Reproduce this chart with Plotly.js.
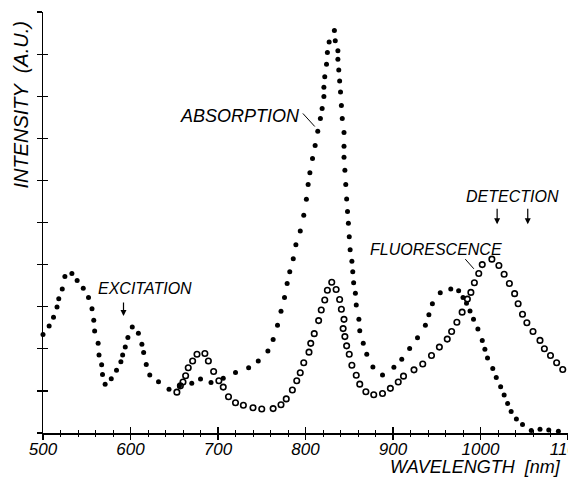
<!DOCTYPE html>
<html>
<head>
<meta charset="utf-8">
<script src="https://cdn.plot.ly/plotly-3.0.1.min.js"></script>
<style>html,body{margin:0;padding:0;background:#fff;}#chart{width:568px;height:477px;}</style>
</head>
<body>
<div id="chart"></div>
<script>
// Absorption spectrum (filled dots): wavelength [nm], intensity [a.u.]
var absorptionWavelength = [500,507,512,516,518,522,525,533,539,546,552,556,558,559,563,564,567,568,571,578,584,589,591,594,597,602,609,613,615,618,622,632,644,656,670,680,692,706,720,735,746,757,763,768,772,776,779,782,786,789,794,798,801,803,805,808,811,814,817,819,821,821,822,824,825,827,833,834,837,837,838,839,840,841,842,844,844,844,845,846,847,848,849,850,851,853,854,855,857,858,861,862,866,870,877,888,901,910,919,928,937,941,945,954,966,975,980,984,988,992,997,1002,1005,1008,1014,1018,1023,1027,1031,1035,1041,1048,1058,1068,1078,1089];
var absorptionIntensity = [2.34,2.54,2.75,2.99,3.19,3.42,3.72,3.79,3.62,3.44,3.22,2.95,2.68,2.42,2.13,1.85,1.62,1.39,1.16,1.29,1.49,1.69,1.85,2.04,2.27,2.52,2.37,2.11,1.91,1.63,1.38,1.22,1.04,1.12,1.18,1.28,1.20,1.30,1.44,1.55,1.71,1.95,2.22,2.56,2.89,3.22,3.55,3.83,4.14,4.47,4.80,5.17,5.55,5.90,6.18,6.52,6.83,7.17,7.47,7.71,7.99,8.21,8.46,8.76,9.04,9.29,9.56,9.32,9.08,8.88,8.62,8.36,8.10,7.78,7.47,7.14,6.81,6.55,6.24,5.90,5.56,5.26,4.98,4.66,4.35,4.08,3.83,3.57,3.32,3.04,2.70,2.43,2.13,1.87,1.57,1.38,1.56,1.75,2.01,2.26,2.56,2.81,3.07,3.33,3.42,3.38,3.22,3.08,2.90,2.70,2.47,2.20,1.99,1.78,1.53,1.32,1.10,0.90,0.70,0.51,0.33,0.20,0.06,0.09,0.07,0.04];

// Fluorescence spectrum (open circles)
var fluorescenceWavelength = [653,657,660,663,666,671,676,685,689,695,701,706,712,720,729,740,750,763,772,778,785,790,794,798,804,806,810,815,818,822,825,830,835,839,841,844,843,845,847,850,853,858,862,869,878,888,897,906,912,924,934,944,953,962,967,973,979,985,989,993,998,1002,1013,1021,1027,1033,1039,1043,1048,1053,1060,1068,1073,1080,1087,1094];
var fluorescenceIntensity = [0.97,1.12,1.21,1.36,1.55,1.71,1.87,1.89,1.71,1.46,1.24,1.09,0.86,0.72,0.66,0.60,0.57,0.58,0.67,0.81,1.02,1.24,1.43,1.67,1.92,2.13,2.36,2.67,2.92,3.16,3.39,3.58,3.41,3.17,2.94,2.70,2.48,2.29,2.07,1.87,1.61,1.37,1.16,0.98,0.91,0.94,1.06,1.21,1.35,1.50,1.64,1.84,2.04,2.23,2.41,2.63,2.87,3.18,3.34,3.57,3.79,4.00,4.13,3.98,3.77,3.55,3.31,3.07,2.82,2.62,2.41,2.20,2.00,1.84,1.67,1.51];

var xTickValues = [500,600,700,800,900,1000,1100];
var xTickLabels = ['500','600','700','800','900','1000','1100'];

var excitationArrowNm = 592;
var detectionArrowsNm = [1019, 1054];

var font = 'Liberation Sans, Arial, sans-serif';

var traces = [
  {x: absorptionWavelength, y: absorptionIntensity, type: 'scatter', mode: 'markers',
   marker: {symbol: 'circle', size: 5, color: '#000'}, cliponaxis: false, hoverinfo: 'skip'},
  {x: fluorescenceWavelength, y: fluorescenceIntensity, type: 'scatter', mode: 'markers',
   marker: {symbol: 'circle-open', size: 5.5, color: '#000', line: {width: 1.6, color: '#000'}}, cliponaxis: false, hoverinfo: 'skip'},
  {x: [null], y: [null], xaxis: 'x2', yaxis: 'y2', type: 'scatter', mode: 'markers', hoverinfo: 'skip', showlegend: false}
];

var axCommon = {showgrid: false, zeroline: false, color: '#000'};

var layout = {
  width: 568, height: 477,
  margin: {l: 43, r: 0, t: 12, b: 44},
  paper_bgcolor: '#fff', plot_bgcolor: 'rgba(0,0,0,0)',
  showlegend: false,
  xaxis: Object.assign({}, axCommon, {
    range: [500, 1100], showline: true, linewidth: 1.5, linecolor: '#000',
    tickmode: 'array', tickvals: xTickValues,
    ticktext: xTickLabels.map(function (t) { return '<i>' + t + '</i>'; }),
    ticklabeloverflow: 'allow',
    ticks: 'inside', ticklen: 6, tickwidth: 1.3, tickcolor: '#000',
    minor: {dtick: 20, tick0: 500, ticks: 'inside', ticklen: 3, tickwidth: 1, tickcolor: '#000'},
    tickfont: {family: font, size: 17, color: '#000', style: 'italic'}
  }),
  yaxis: Object.assign({}, axCommon, {
    range: [0, 10], showline: true, linewidth: 1.5, linecolor: '#000',
    tickmode: 'linear', tick0: 0, dtick: 1, ticks: 'outside', ticklen: 5, tickwidth: 1.2, tickcolor: '#000',
    showticklabels: false
  }),
  xaxis2: Object.assign({}, axCommon, {
    overlaying: 'x', anchor: 'y2', side: 'bottom', range: [500, 1100], showline: false,
    tickmode: 'array', tickvals: xTickValues, showticklabels: false,
    ticks: 'outside', ticklen: 6, tickwidth: 1.3, tickcolor: '#000',
    minor: {dtick: 20, tick0: 500, ticks: 'outside', ticklen: 3, tickwidth: 1, tickcolor: '#000'}
  }),
  yaxis2: Object.assign({}, axCommon, {
    overlaying: 'y', anchor: 'x2', side: 'left', range: [0, 10], showline: false,
    tickmode: 'linear', tick0: 0, dtick: 1, ticks: 'inside', ticklen: 5, tickwidth: 1.2, tickcolor: '#000',
    showticklabels: false
  }),
  annotations: [
    {xref: 'paper', yref: 'paper', x: -0.042, y: 0.78, yanchor: 'middle', xanchor: 'center', text: 'INTENSITY  (A.U.)', textangle: -90,
     showarrow: false, font: {family: font, size: 20, color: '#000', style: 'italic'}},
    {xref: 'paper', yref: 'paper', x: 1, xshift: -5, y: -0.0796, xanchor: 'right', yanchor: 'middle', text: 'WAVELENGTH  [nm]',
     showarrow: false, font: {family: font, size: 18, color: '#000', style: 'italic'}},
    {xref: 'x', yref: 'y', x: 725, y: 7.53, text: 'ABSORPTION', showarrow: false,
     font: {family: font, size: 18, color: '#000', style: 'italic'}},
    {xref: 'x', yref: 'y', x: 617, y: 3.44, text: 'EXCITATION', showarrow: false,
     font: {family: font, size: 16, color: '#000', style: 'italic'}},
    {xref: 'x', yref: 'y', x: 949, y: 4.36, text: 'FLUORESCENCE', showarrow: false,
     font: {family: font, size: 16, color: '#000', style: 'italic'}},
    {xref: 'x', yref: 'y', x: 1036, y: 5.62, text: 'DETECTION', showarrow: false,
     font: {family: font, size: 16, color: '#000', style: 'italic'}},
    {xref: 'x', yref: 'y', x: excitationArrowNm, y: 2.78, text: '', showarrow: true, ax: 0, ay: -15,
     arrowhead: 2, arrowsize: 1, arrowwidth: 1.2, arrowcolor: '#000', standoff: 0},
    {xref: 'x', yref: 'y', x: detectionArrowsNm[0], y: 4.96, text: '', showarrow: true, ax: 0, ay: -17,
     arrowhead: 2, arrowsize: 1, arrowwidth: 1.2, arrowcolor: '#000', standoff: 0},
    {xref: 'x', yref: 'y', x: detectionArrowsNm[1], y: 4.96, text: '', showarrow: true, ax: 0, ay: -17,
     arrowhead: 2, arrowsize: 1, arrowwidth: 1.2, arrowcolor: '#000', standoff: 0}
  ],
  shapes: [
    {type: 'line', xref: 'x', yref: 'y', x0: 797, y0: 7.59, x1: 810.6, y1: 7.28, line: {color: '#000', width: 1}},
    {type: 'line', xref: 'x', yref: 'y', x0: 982.6, y0: 4.13, x1: 992.4, y1: 3.90, line: {color: '#000', width: 1}}
  ]
};

Plotly.newPlot('chart', traces, layout, {staticPlot: true, displayModeBar: false});
</script>
</body>
</html>
